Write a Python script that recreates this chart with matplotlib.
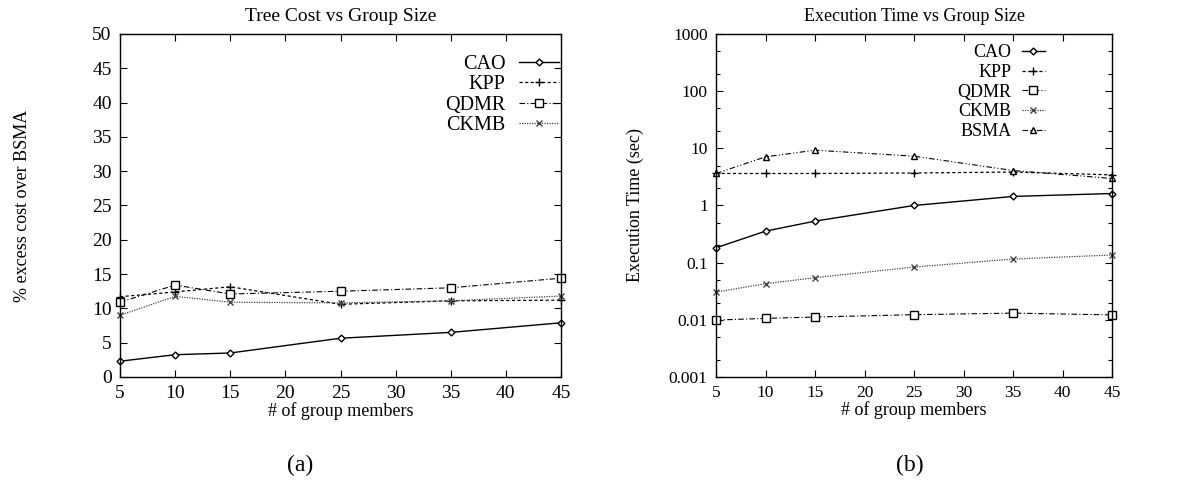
import matplotlib
matplotlib.use('Agg')
import matplotlib.pyplot as plt
from matplotlib.ticker import LogLocator, NullFormatter, FixedLocator

plt.rcParams['font.family'] = ['Liberation Serif', 'DejaVu Serif']

group_sizes = [5, 10, 15, 25, 35, 45]

# (a) % excess cost over BSMA
cost_cao = [2.3, 3.25, 3.5, 5.65, 6.5, 7.9]
cost_kpp = [11.7, 12.4, 13.15, 10.6, 11.1, 11.2]
cost_qdmr = [10.9, 13.4, 12.1, 12.5, 13.0, 14.4]
cost_ckmb = [9.0, 11.75, 10.9, 10.8, 11.1, 11.8]

# (b) execution time (sec)
time_cao = [0.182, 0.356, 0.533, 1.0, 1.44, 1.62]
time_kpp = [3.63, 3.63, 3.63, 3.7, 3.85, 3.43]
time_qdmr = [0.0099, 0.0106, 0.0112, 0.0123, 0.0131, 0.0122]
time_ckmb = [0.0306, 0.0428, 0.0546, 0.0838, 0.1156, 0.136]
time_bsma = [3.63, 7.1, 9.27, 7.28, 4.09, 2.97]

styles = {
    'CAO': dict(color='black', linestyle='-', marker='D', ms=3.5, mfc='white', lw=1.0),
    'KPP': dict(color='black', linestyle=(0, (2.5, 2)), marker='+', ms=6, lw=0.9),
    'QDMR': dict(color='black', linestyle=(0, (5, 2, 1, 2)), marker='s', ms=5.5, mfc='white', lw=0.8),
    'CKMB': dict(color='#444444', linestyle=(0, (1, 1)), marker='x', ms=5, lw=0.9),
    'BSMA': dict(color='black', linestyle=(0, (5, 2, 1, 2, 1, 2)), marker='^', ms=5, mfc='white', lw=0.8),
}

fig = plt.figure(figsize=(12, 4.8), dpi=100)
ax1 = fig.add_axes([0.1, 0.2146, 0.3675, 0.7146])
ax2 = fig.add_axes([0.5967, 0.2146, 0.33, 0.7146])


def style_axes(ax, fs):
    ax.tick_params(direction='in', top=True, right=True, length=5, width=0.8,
                   labelsize=fs, pad=6)
    ax.tick_params(which='minor', direction='in', top=True, right=True, length=3, width=0.8)
    for s in ax.spines.values():
        s.set_linewidth(1.0)
    ax.set_xlim(5, 45)
    ax.set_xticks(range(5, 50, 5))


for name, vals in [('CAO', cost_cao), ('KPP', cost_kpp), ('QDMR', cost_qdmr), ('CKMB', cost_ckmb)]:
    ax1.plot(group_sizes, vals, label=name, clip_on=False, **styles[name])
ax1.set_ylim(0, 50)
ax1.set_yticks(range(0, 55, 5))
style_axes(ax1, 14)
ax1.set_title('Tree Cost vs Group Size', fontsize=14, pad=9)
ax1.set_xlabel('# of group members', fontsize=13, labelpad=0)
ax1.set_ylabel('% excess cost over BSMA', fontsize=13, labelpad=44)
ax1.legend(loc='upper right', bbox_to_anchor=(0.995, 0.94), frameon=False,
           markerfirst=False, fontsize=14.5, handlelength=2.0, handletextpad=0.65,
           labelspacing=0.07, borderpad=0, borderaxespad=0)

for name, vals in [('CAO', time_cao), ('KPP', time_kpp), ('QDMR', time_qdmr),
                   ('CKMB', time_ckmb), ('BSMA', time_bsma)]:
    ax2.plot(group_sizes, vals, label=name, clip_on=False, **styles[name])
ax2.set_yscale('log')
ax2.set_ylim(0.001, 1000)
ax2.yaxis.set_major_locator(FixedLocator([0.001, 0.01, 0.1, 1, 10, 100, 1000]))
ax2.set_yticklabels(['0.001', '0.01', '0.1', '1', '10', '100', '1000'])
ax2.yaxis.set_minor_locator(LogLocator(base=10, subs=(2, 5)))
ax2.yaxis.set_minor_formatter(NullFormatter())
style_axes(ax2, 12.5)
ax2.set_title('Execution Time vs Group Size', fontsize=13, pad=9)
ax2.set_xlabel('# of group members', fontsize=13, labelpad=0)
ax2.set_ylabel('Execution Time (sec)', fontsize=13, labelpad=18)
ax2.legend(loc='upper right', bbox_to_anchor=(0.831, 0.97), frameon=False,
           markerfirst=False, fontsize=13, handlelength=1.3, handletextpad=0.55,
           labelspacing=0.15, borderpad=0, borderaxespad=0)

fig.text(0.25, 0.03, '(a)', ha='center', va='center', fontsize=17)
fig.text(0.758, 0.03, '(b)', ha='center', va='center', fontsize=17)

fig.savefig('out.png', dpi=100)
